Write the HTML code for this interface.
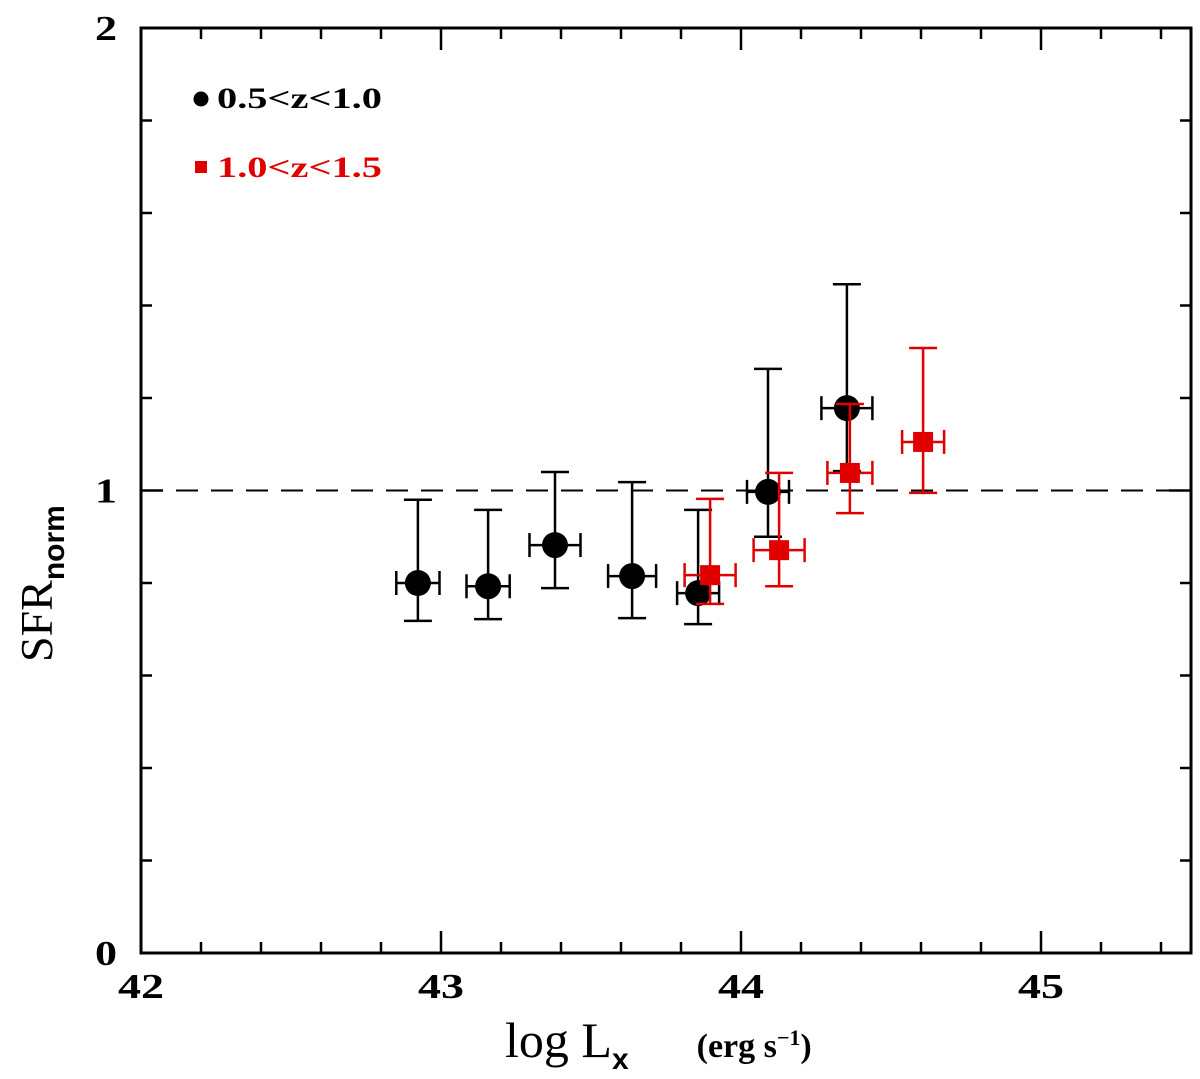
<!DOCTYPE html>
<html><head><meta charset="utf-8"><style>
html,body{margin:0;padding:0;background:#fff;}
svg{display:block;}
</style></head><body>
<svg id="chart" width="1200" height="1079" viewBox="0 0 1200 1079" xmlns="http://www.w3.org/2000/svg"></svg>
<script>
const blackX=[42.923,43.157,43.38,43.637,43.857,44.09,44.353];
const blackXErr=[0.072,0.072,0.085,0.08,0.07,0.07,0.085];
const blackY=[0.80,0.793,0.882,0.815,0.778,0.997,1.178];
const blackYUp=[0.98,0.958,1.04,1.018,0.958,1.263,1.446];
const blackYLow=[0.718,0.722,0.789,0.724,0.711,0.90,1.042];
const redX=[43.897,44.127,44.363,44.607];
const redXErr=[0.085,0.085,0.075,0.07];
const redY=[0.817,0.871,1.038,1.105];
const redYUp=[0.982,1.038,1.187,1.308];
const redYLow=[0.755,0.793,0.951,0.995];
const xTickLabels=["42","43","44","45"];
const yTickLabels=["0","1","2"];

const NS="http://www.w3.org/2000/svg";
const svg=document.getElementById('chart');
const X0=141,X1=1191,Y0=953,Y1=28;
const xMin=42,xMax=45.5,yMin=0,yMax=2;
function sx(v){return X0+(v-xMin)/(xMax-xMin)*(X1-X0);}
function sy(v){return Y0-(v-yMin)/(yMax-yMin)*(Y0-Y1);}
function mk(tag,attrs,parent){const e=document.createElementNS(NS,tag);for(const k in attrs)e.setAttribute(k,attrs[k]);(parent||svg).appendChild(e);return e;}

const frame=mk('rect',{x:X0,y:Y1,width:X1-X0,height:Y0-Y1,fill:'none',stroke:'#000','stroke-width':3});



for(let i=0;i<=17;i++){
  const v=42+i*0.2, px=sx(v), major=(i%5===0), L=major?22:11;
  const t1=mk('line',{x1:px,y1:Y0,x2:px,y2:Y0-L,stroke:'#000','stroke-width':2.5});
  
  
  const t2=mk('line',{x1:px,y1:Y1,x2:px,y2:Y1+L,stroke:'#000','stroke-width':2.5});
  
  
}
xTickLabels.forEach(s=>{
  const t=mk('text',{x:sx(+s),y:998,'text-anchor':'middle','font-family':'Liberation Serif, serif','font-size':35,'font-weight':'bold',fill:'#000',textLength:46,lengthAdjust:'spacingAndGlyphs'});
  t.textContent=s;
  
  
});
for(let i=0;i<=10;i++){
  const v=i*0.2, py=sy(v), major=(i%5===0), L=major?22:11;
  const t1=mk('line',{x1:X0,y1:py,x2:X0+L,y2:py,stroke:'#000','stroke-width':2.5});
  
  
  const t2=mk('line',{x1:X1,y1:py,x2:X1-L,y2:py,stroke:'#000','stroke-width':2.5});
  
  
}
yTickLabels.forEach(s=>{
  const t=mk('text',{x:106,y:sy(+s)+12,'text-anchor':'middle','font-family':'Liberation Serif, serif','font-size':35,'font-weight':'bold',fill:'#000',textLength:22,lengthAdjust:'spacingAndGlyphs'});
  t.textContent=s;
  
  
});

const ref=mk('line',{x1:X0,y1:sy(1),x2:X1,y2:sy(1),stroke:'#000','stroke-width':2,'stroke-dasharray':'22,13'});



function errbar(x,xe,y,yu,yl,color,name){
  const g=mk('g',{stroke:color,'stroke-width':2.5,fill:'none'});
  
  
  const cx=sx(x),cy=sy(y),xl=sx(x-xe),xr=sx(x+xe),yt=sy(yu),yb=sy(yl);
  mk('line',{x1:cx,y1:yt,x2:cx,y2:yb},g);
  mk('line',{x1:cx-14,y1:yt,x2:cx+14,y2:yt},g);
  mk('line',{x1:cx-14,y1:yb,x2:cx+14,y2:yb},g);
  mk('line',{x1:xl,y1:cy,x2:xr,y2:cy},g);
  mk('line',{x1:xl,y1:cy-12,x2:xl,y2:cy+12},g);
  mk('line',{x1:xr,y1:cy-12,x2:xr,y2:cy+12},g);
}
blackX.forEach((x,i)=>{
  errbar(x,blackXErr[i],blackY[i],blackYUp[i],blackYLow[i],'#000','black-point');
  const c=mk('circle',{cx:sx(x),cy:sy(blackY[i]),r:13,fill:'#000'});
  
  
});
redX.forEach((x,i)=>{
  errbar(x,redXErr[i],redY[i],redYUp[i],redYLow[i],'#e00000','red-point');
  const r=mk('rect',{x:sx(x)-10,y:sy(redY[i])-10,width:20,height:20,fill:'#e00000'});
  
  
});

const l1=mk('circle',{cx:201,cy:99,r:7.5,fill:'#000'});


const t1=mk('text',{x:217,y:108,'font-family':'Liberation Serif, serif','font-size':30,fill:'#000','font-weight':'bold',textLength:165,lengthAdjust:'spacingAndGlyphs'});
t1.textContent='0.5<z<1.0';


const l2=mk('rect',{x:195,y:161,width:12,height:12,fill:'#e00000'});


const t2=mk('text',{x:217,y:177,'font-family':'Liberation Serif, serif','font-size':30,fill:'#e00000','font-weight':'bold',textLength:165,lengthAdjust:'spacingAndGlyphs'});
t2.textContent='1.0<z<1.5';



const xt=mk('text',{x:505,y:1057,'font-family':'Liberation Serif, serif','font-size':50,fill:'#000'});


xt.innerHTML='log L<tspan dy="12" font-size="30" font-weight="bold" font-family="Liberation Sans, sans-serif">x</tspan><tspan dx="68" dy="-12" font-size="34" font-weight="bold">(erg s<tspan dy="-12" font-size="22">−1</tspan><tspan dy="12">)</tspan></tspan>';
const yt=mk('text',{x:0,y:0,'font-family':'Liberation Serif, serif','font-size':46,fill:'#000',transform:'translate(52,662) rotate(-90)'});


yt.innerHTML='SFR<tspan dy="12" font-size="30" font-weight="bold" font-family="Liberation Sans, sans-serif">norm</tspan>';
</script>
</body></html>
